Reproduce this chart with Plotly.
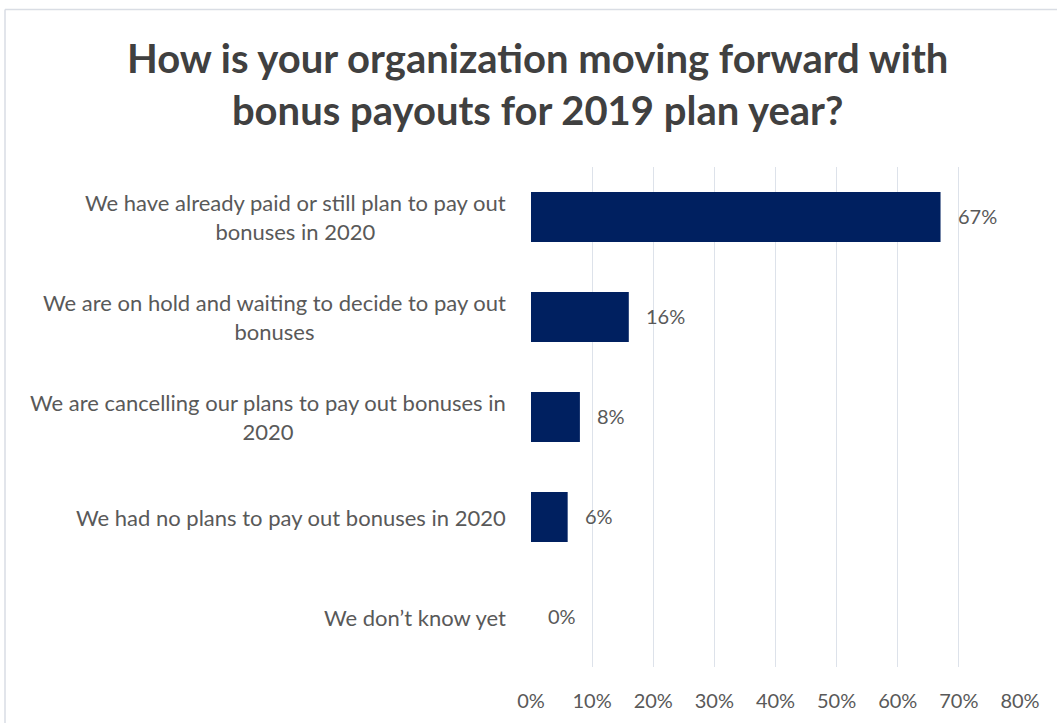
import plotly.graph_objects as go

# Survey responses
categories = [
    "We have already paid or still plan to pay out<br>bonuses in 2020",
    "We are on hold and waiting to decide to pay out<br>bonuses",
    "We are cancelling our plans to pay out bonuses in<br>2020",
    "We had no plans to pay out bonuses in 2020",
    "We don\u2019t know yet",
]
shares = [0.67, 0.16, 0.08, 0.06, 0.00]
value_labels = ["67%", "16%", "8%", "6%", "0%"]
tick_values = [0, 0.1, 0.2, 0.3, 0.4, 0.5, 0.6, 0.7, 0.8]
tick_labels = ["0%", "10%", "20%", "30%", "40%", "50%", "60%", "70%", "80%"]
title_text = "How is your organization moving forward with<br>bonus payouts for 2019 plan year?"

W, H = 1057, 723
ML, MR, MT, MB = 531, 37, 167, 56
plot_w = W - ML - MR
plot_h = H - MT - MB

FONT = "Lato"
TEXT_GREY = "#595959"
BAR_BLUE = "#002060"

fig = go.Figure()
fig.add_trace(go.Bar(
    x=shares,
    y=list(range(len(categories))),
    orientation="h",
    marker=dict(color=BAR_BLUE, line=dict(width=0)),
    hoverinfo="skip",
))

annotations = []
# category labels: block right-aligned next to the axis, lines centred
for i, cat in enumerate(categories):
    annotations.append(dict(
        x=0, xref="paper", y=i, yref="y", text=cat,
        xanchor="right", yanchor="middle", align="center", xshift=-23,
        showarrow=False, font=dict(family=FONT, size=22, color=TEXT_GREY),
    ))
# value labels at the end of each bar
for i, (v, lab) in enumerate(zip(shares, value_labels)):
    annotations.append(dict(
        x=v, xref="x", y=i, yref="y", text=lab,
        xanchor="left", yanchor="middle", xshift=15, yshift=1,
        showarrow=False, font=dict(family=FONT, size=20, color=TEXT_GREY),
    ))
# title
annotations.append(dict(
    x=(537 - ML) / plot_w, xref="paper", y=1 + (MT - 84) / plot_h, yref="paper",
    text=title_text, xanchor="center", yanchor="middle", align="center",
    showarrow=False, font=dict(family=FONT, size=40, color="#404040", weight="bold"),
))

# outer frame (top and left edges)
frame_color = "#d9dde4"
x_left = (5 - ML) / plot_w
y_top = 1 + (MT - 9.5) / plot_h
y_bottom = 1 + (MT - H - 5) / plot_h
x_right = 1 + (MR + 5) / plot_w
shapes = [
    dict(type="line", xref="paper", yref="paper", x0=x_left, x1=x_right, y0=y_top, y1=y_top,
         line=dict(color=frame_color, width=1.5)),
    dict(type="line", xref="paper", yref="paper", x0=x_left, x1=x_left, y0=y_top, y1=y_bottom,
         line=dict(color=frame_color, width=1.5)),
]

fig.update_layout(
    width=W, height=H,
    margin=dict(l=ML, r=MR, t=MT, b=MB, pad=0),
    paper_bgcolor="white", plot_bgcolor="white",
    showlegend=False,
    bargap=0.5,
    annotations=annotations,
    shapes=shapes,
    xaxis=dict(
        range=[0, 0.8], tickvals=tick_values, ticktext=tick_labels,
        showgrid=True, gridcolor="#dde2ea", gridwidth=1.2,
        zeroline=False, showline=False, ticks="",
        ticklabelstandoff=20,
        tickfont=dict(family=FONT, size=20, color=TEXT_GREY),
        fixedrange=True,
    ),
    yaxis=dict(
        range=[4.5, -0.5], showticklabels=False, showgrid=False,
        zeroline=False, showline=False, ticks="", fixedrange=True,
    ),
)

fig.write_html("out.html")
